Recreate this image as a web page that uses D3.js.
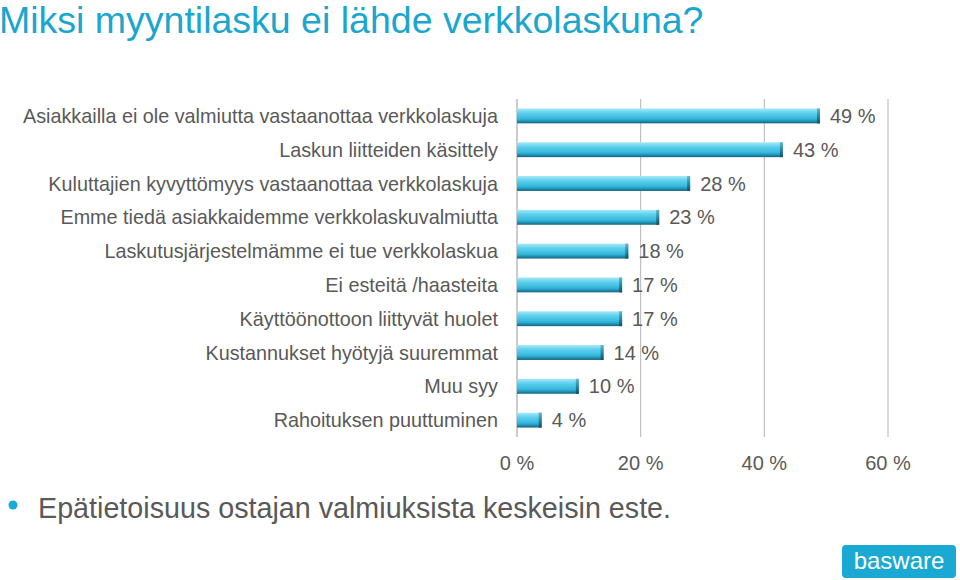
<!DOCTYPE html>
<html><head><meta charset="utf-8">
<script src="https://cdn.jsdelivr.net/npm/d3@7"></script>
<style>body{margin:0;background:#fff}svg{display:block}text{font-family:"Liberation Sans",Arial,sans-serif}</style>
</head><body>
<script>
const categories = ["Asiakkailla ei ole valmiutta vastaanottaa verkkolaskuja","Laskun liitteiden käsittely","Kuluttajien kyvyttömyys vastaanottaa verkkolaskuja","Emme tiedä asiakkaidemme verkkolaskuvalmiutta","Laskutusjärjestelmämme ei tue verkkolaskua","Ei esteitä /haasteita","Käyttöönottoon liittyvät huolet","Kustannukset hyötyjä suuremmat","Muu syy","Rahoituksen puuttuminen"];
const values = [49,43,28,23,18,17,17,14,10,4];
const ticks = [0,20,40,60];
const title = "Miksi myyntilasku ei lähde verkkolaskuna?";
const bullet = "Epätietoisuus ostajan valmiuksista keskeisin este.";

const W=960,H=580;
const svg=d3.select("body").append("svg").attr("width",W).attr("height",H);
const defs=svg.append("defs");
const g1=defs.append("linearGradient").attr("id","bar").attr("x1",0).attr("y1",0).attr("x2",0).attr("y2",1);
[[0,"#a6e9f8"],[0.3,"#5fd0ee"],[0.7,"#34b6da"],[0.85,"#1f93b6"],[1,"#15607a"]].forEach(([o,c])=>g1.append("stop").attr("offset",o).attr("stop-color",c));
const g2=defs.append("linearGradient").attr("id","cap").attr("x1",0).attr("y1",0).attr("x2",0).attr("y2",1);
[[0,"#5fb6cc"],[0.5,"#2a88a4"],[1,"#124f63"]].forEach(([o,c])=>g2.append("stop").attr("offset",o).attr("stop-color",c));

const x=d3.scaleLinear().domain([0,60]).range([517,888]);
const y=d3.scaleBand().domain(categories).range([99,437]).paddingInner(0.56).paddingOuter(0.28);

svg.append("text").attr("x",-1).attr("y",33).attr("font-size",37.5).attr("fill","#1ba6cd").text(title);

// gridlines
svg.append("g").selectAll("line").data(ticks.slice(1)).join("line")
  .attr("x1",d=>x(d)).attr("x2",d=>x(d)).attr("y1",99).attr("y2",437)
  .attr("stroke","#b5b5b5").attr("stroke-width",1);
// left axis
svg.append("line").attr("x1",x(0)).attr("x2",x(0)).attr("y1",99).attr("y2",437).attr("stroke","#9a9a9a");

// bars
const bars=svg.append("g").selectAll("g").data(values).join("g");
bars.append("rect").attr("x",x(0)).attr("y",(d,i)=>y(categories[i])).attr("width",d=>x(d)-x(0)).attr("height",y.bandwidth()).attr("fill","url(#bar)");
bars.append("rect").attr("x",d=>x(d)-3).attr("y",(d,i)=>y(categories[i])).attr("width",3).attr("height",y.bandwidth()).attr("fill","url(#cap)");
bars.append("text").attr("x",d=>x(d)+10).attr("y",(d,i)=>y(categories[i])+y.bandwidth()/2+7)
  .attr("font-size",20).attr("fill","#595959").text(d=>d+" %");

// category labels
svg.append("g").selectAll("text").data(categories).join("text")
  .attr("x",498).attr("y",d=>y(d)+y.bandwidth()/2+7).attr("text-anchor","end")
  .attr("font-size",19.8).attr("fill","#595959").text(d=>d);

// x tick labels
svg.append("g").selectAll("text").data(ticks).join("text")
  .attr("x",d=>x(d)).attr("y",470).attr("text-anchor","middle")
  .attr("font-size",20).attr("fill","#595959").text(d=>d+" %");

// bullet
svg.append("circle").attr("cx",13).attr("cy",505).attr("r",4.5).attr("fill","#1aa9d4");
svg.append("text").attr("x",38).attr("y",518).attr("font-size",28.7).attr("fill","#595959").text(bullet);

// logo
svg.append("rect").attr("x",842).attr("y",545).attr("width",114).attr("height",33).attr("rx",4).attr("fill","#19a9d3");
svg.append("text").attr("x",899).attr("y",569).attr("text-anchor","middle").attr("font-size",24).attr("fill","#fff").attr("font-family","Roboto,'DejaVu Sans',sans-serif").attr("font-weight",300).text("basware");
</script>
</body></html>
